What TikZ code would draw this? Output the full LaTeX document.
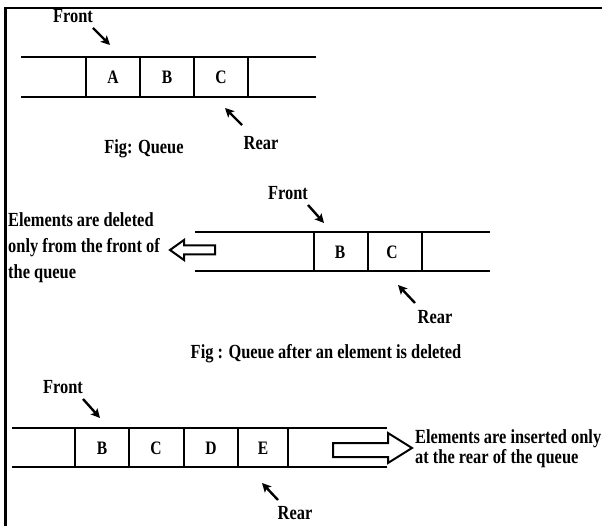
\documentclass[tikz,border=0pt]{standalone}
\usepackage{fontspec}
\setmainfont{Liberation Serif}[FakeStretch=0.82]
\usetikzlibrary{arrows.meta}

\begin{document}
\begin{tikzpicture}[x=1pt,y=-1pt,
  lbl/.style={font=\fontsize{20}{26}\selectfont\bfseries, inner sep=0pt, anchor=base},
  note/.style={lbl, align=left, anchor=base west},
  cellt/.style={font=\fontsize{19}{20}\selectfont\bfseries, inner sep=0pt, anchor=base},
  rail/.style={line width=2.4pt},
  wall/.style={line width=1.7pt},
  ptr/.style={line width=2.4pt, -{Stealth[length=9pt,width=9pt,inset=2pt]}},
  hollow/.style={line width=2pt, line join=miter},
  frame/.style={line width=2.8pt}]
\useasboundingbox (0,0) rectangle (602,526);
\fill[white] (0,0) rectangle (602,526);

% frame: left and top edges only
\draw[frame] (5.5,526) -- (5.5,8) -- (602,8);

% ---------- queue 1 ----------
\draw[rail] (21,57) -- (316,57);
\draw[rail] (21,97) -- (316,97);
\foreach \x in {86,140,194,248} \draw[wall] (\x,57) -- (\x,97);
\node[cellt] (qa) at (113,83.5) {A};
\node[cellt] (qb) at (167,83.5) {B};
\node[cellt] (qc) at (221,83.5) {C};
\node[lbl] (front1) at (73,22.5) {Front};
\node[lbl] (rear1) at (261,149.5) {Rear};
\node[lbl] (cap1) at (144,153.5) {Fig: Queue};
\coordinate (f1s) at (93,28);
\coordinate (f1e) at (110,45);
\coordinate (r1s) at (242,125);
\coordinate (r1e) at (225,108);
\draw[ptr] (f1s) -- (f1e);
\draw[ptr] (r1s) -- (r1e);

% ---------- queue 2 (after deletion) ----------
\draw[rail] (195,232) -- (490,232);
\draw[rail] (195,271) -- (490,271);
\foreach \x in {314,368,422} \draw[wall] (\x,232) -- (\x,271);
\node[cellt] (pb) at (340,258.5) {B};
\node[cellt] (pc) at (392,258.5) {C};
\node[lbl] (front2) at (288,199.5) {Front};
\node[lbl] (rear2) at (435,323.5) {Rear};
\node[lbl] (cap2) at (326,358.5) {Fig : Queue after an element is deleted};
\coordinate (f2s) at (308,205);
\coordinate (f2e) at (324,223);
\coordinate (r2s) at (415,303);
\coordinate (r2e) at (398,285);
\draw[ptr] (f2s) -- (f2e);
\draw[ptr] (r2s) -- (r2e);
% base of a multi-line node sits on its last line
\node[note] (del) at (8,278.5) {Elements are deleted\\only from the front of\\the queue};
% hollow arrow pointing left
\draw[hollow] (170,250) -- (184,240) -- (184,245.5) -- (215,245.5)
  -- (215,254.5) -- (184,254.5) -- (184,260) -- cycle;

% ---------- queue 3 (after insertion) ----------
\draw[rail] (12,428) -- (387,428);
\draw[rail] (12,467) -- (387,467);
\foreach \x in {75,129,184,238,288} \draw[wall] (\x,428) -- (\x,467);
\node[cellt] (sb) at (102,454.5) {B};
\node[cellt] (sc) at (156,454.5) {C};
\node[cellt] (sd) at (211,454.5) {D};
\node[cellt] (se) at (263,454.5) {E};
\node[lbl] (front3) at (63,393.5) {Front};
\node[lbl] (rear3) at (295,519.5) {Rear};
\coordinate (f3s) at (83,399);
\coordinate (f3e) at (100,418);
\coordinate (r3s) at (278,500);
\coordinate (r3e) at (262,483);
\draw[ptr] (f3s) -- (f3e);
\draw[ptr] (r3s) -- (r3e);
\node[note, font=\fontsize{20}{20}\selectfont\bfseries] (ins) at (415,463.5)
  {Elements are inserted only\\at the rear of the queue};
% hollow arrow pointing right
\draw[hollow] (412,448) -- (388,433) -- (388,443) -- (333,443)
  -- (333,457) -- (388,457) -- (388,463) -- cycle;
\end{tikzpicture}
\end{document}
